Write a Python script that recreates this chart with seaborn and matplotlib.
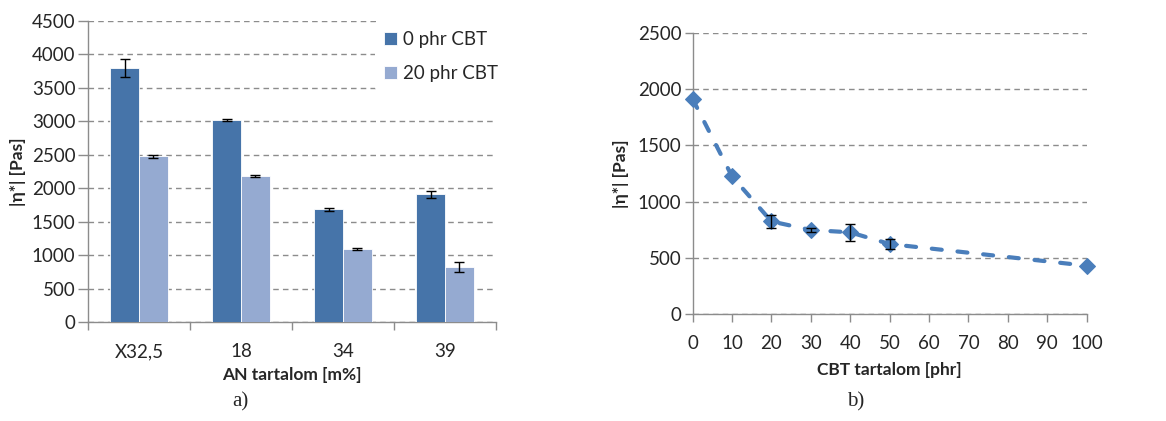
import numpy as np
import pandas as pd
import matplotlib
matplotlib.use("Agg")
import matplotlib.pyplot as plt
import seaborn as sns

# ---- data ----
categories = ["X32,5", "18", "34", "39"]
series_names = ["0 phr CBT", "20 phr CBT"]
vals_0phr = [3800, 3020, 1685, 1912]
err_0phr = [140, 10, 22, 52]
vals_20phr = [2477, 2182, 1087, 818]
err_20phr = [18, 14, 16, 77]

cbt_x = [0, 10, 20, 30, 40, 50, 100]
cbt_y = [1913, 1225, 824, 748, 727, 623, 430]
cbt_err = [0, 0, 57, 18, 77, 43, 0]

bar_colors = ["#4674A9", "#95AAD1"]
line_color = "#4A7EBB"
grid_color = "#8C8C8C"
spine_color = "#8C8C8C"

sns.set_theme(style="white")
plt.rcParams['font.family'] = ['Lato', 'DejaVu Sans']

TS = 13.5
LS = 12.5

fig = plt.figure(figsize=(11.66, 4.21), dpi=100)
ax1 = fig.add_axes([0.0755, 0.235, 0.3499, 0.715])
ax2 = fig.add_axes([0.594, 0.254, 0.338, 0.6676])

# ---- left bar chart ----
df = pd.DataFrame({
    "cat": categories * 2,
    "series": [series_names[0]] * 4 + [series_names[1]] * 4,
    "val": vals_0phr + vals_20phr,
})
sns.barplot(data=df, x="cat", y="val", hue="series", palette=bar_colors,
            width=0.56, errorbar=None, ax=ax1, saturation=1,
            edgecolor="white", linewidth=0.6, zorder=3)
errs = err_0phr + err_20phr
vals = vals_0phr + vals_20phr
patches = [p for p in ax1.patches if p.get_height() > 0][:8]
for p, v, e in zip(patches, vals, errs):
    cx = p.get_x() + p.get_width() / 2
    ax1.errorbar(cx, v, yerr=e, color="black", capsize=3.5, elinewidth=1,
                 capthick=1, zorder=4)

ax1.set_ylim(0, 4500)
ax1.set_yticks(np.arange(0, 4501, 500))
ax1.set_xlim(-0.5, 3.5)
ax1.set_xticks(np.arange(-0.5, 3.6, 1), minor=False)
ax1.set_xticklabels([])
ax1.set_xticks(range(4), minor=True)
ax1.set_xticklabels(categories, minor=True)
ax1.tick_params(axis="x", which="major", length=6, width=1, color=spine_color, direction="out", bottom=True)
ax1.tick_params(axis="x", which="minor", length=0, pad=15, labelsize=TS)
ax1.tick_params(axis="y", length=7, width=1, color=spine_color, direction="out", left=True, labelsize=TS, pad=2)
ax1.yaxis.grid(True, linestyle=(0, (4, 3)), color=grid_color, linewidth=1)
ax1.set_axisbelow(True)
for s in ["top", "right"]:
    ax1.spines[s].set_visible(False)
for s in ["left", "bottom"]:
    ax1.spines[s].set_color(spine_color)
    ax1.spines[s].set_linewidth(1)
ax1.set_xlabel("AN tartalom [m%]", fontweight="bold", fontsize=LS, labelpad=5)
ax1.set_ylabel("|η*| [Pas]", fontweight="bold", fontsize=LS, labelpad=4)
leg = ax1.legend(loc="upper left", bbox_to_anchor=(0.68, 1.03), frameon=True,
                 facecolor="white", edgecolor="none", framealpha=1, fontsize=TS,
                 handlelength=0.7, handleheight=0.7, handletextpad=0.3,
                 labelspacing=0.9, borderpad=0.5)
leg.set_zorder(10)

# ---- right line chart ----
ldf = pd.DataFrame({"x": cbt_x, "y": cbt_y})
sns.lineplot(data=ldf, x="x", y="y", ax=ax2, color=line_color, linewidth=3,
             linestyle=(0, (2.4, 3.8)), dash_capstyle="round",
             marker="D", markersize=8,
             markeredgecolor=line_color, zorder=3, clip_on=False)
for xv, yv, ev in zip(cbt_x, cbt_y, cbt_err):
    if ev > 0:
        ax2.errorbar(xv, yv, yerr=ev, color="black", capsize=3.5, elinewidth=1,
                     capthick=1, zorder=4)
ax2.set_xlim(0, 100)
ax2.set_ylim(0, 2500)
ax2.set_xticks(np.arange(0, 101, 10))
ax2.set_yticks(np.arange(0, 2501, 500))
ax2.tick_params(axis="x", length=6, width=1, color=spine_color, direction="out", bottom=True, labelsize=TS, pad=9)
ax2.tick_params(axis="y", length=6, width=1, color=spine_color, direction="out", left=True, labelsize=TS, pad=2)
ax2.yaxis.grid(True, linestyle=(0, (4, 3)), color=grid_color, linewidth=1)
ax2.set_axisbelow(True)
for s in ["top", "right"]:
    ax2.spines[s].set_visible(False)
for s in ["left", "bottom"]:
    ax2.spines[s].set_color(spine_color)
    ax2.spines[s].set_linewidth(1)
ax2.set_xlabel("CBT tartalom [phr]", fontweight="bold", fontsize=LS, labelpad=7)
ax2.set_ylabel("|η*| [Pas]", fontweight="bold", fontsize=LS, labelpad=6)

# ---- captions ----
fig.text(240 / 1166, 1 - 402 / 421, "a)", family="Liberation Serif", fontsize=15, ha="center", va="center")
fig.text(856 / 1166, 1 - 402 / 421, "b)", family="Liberation Serif", fontsize=15, ha="center", va="center")

fig.savefig("out.png", dpi=100)
